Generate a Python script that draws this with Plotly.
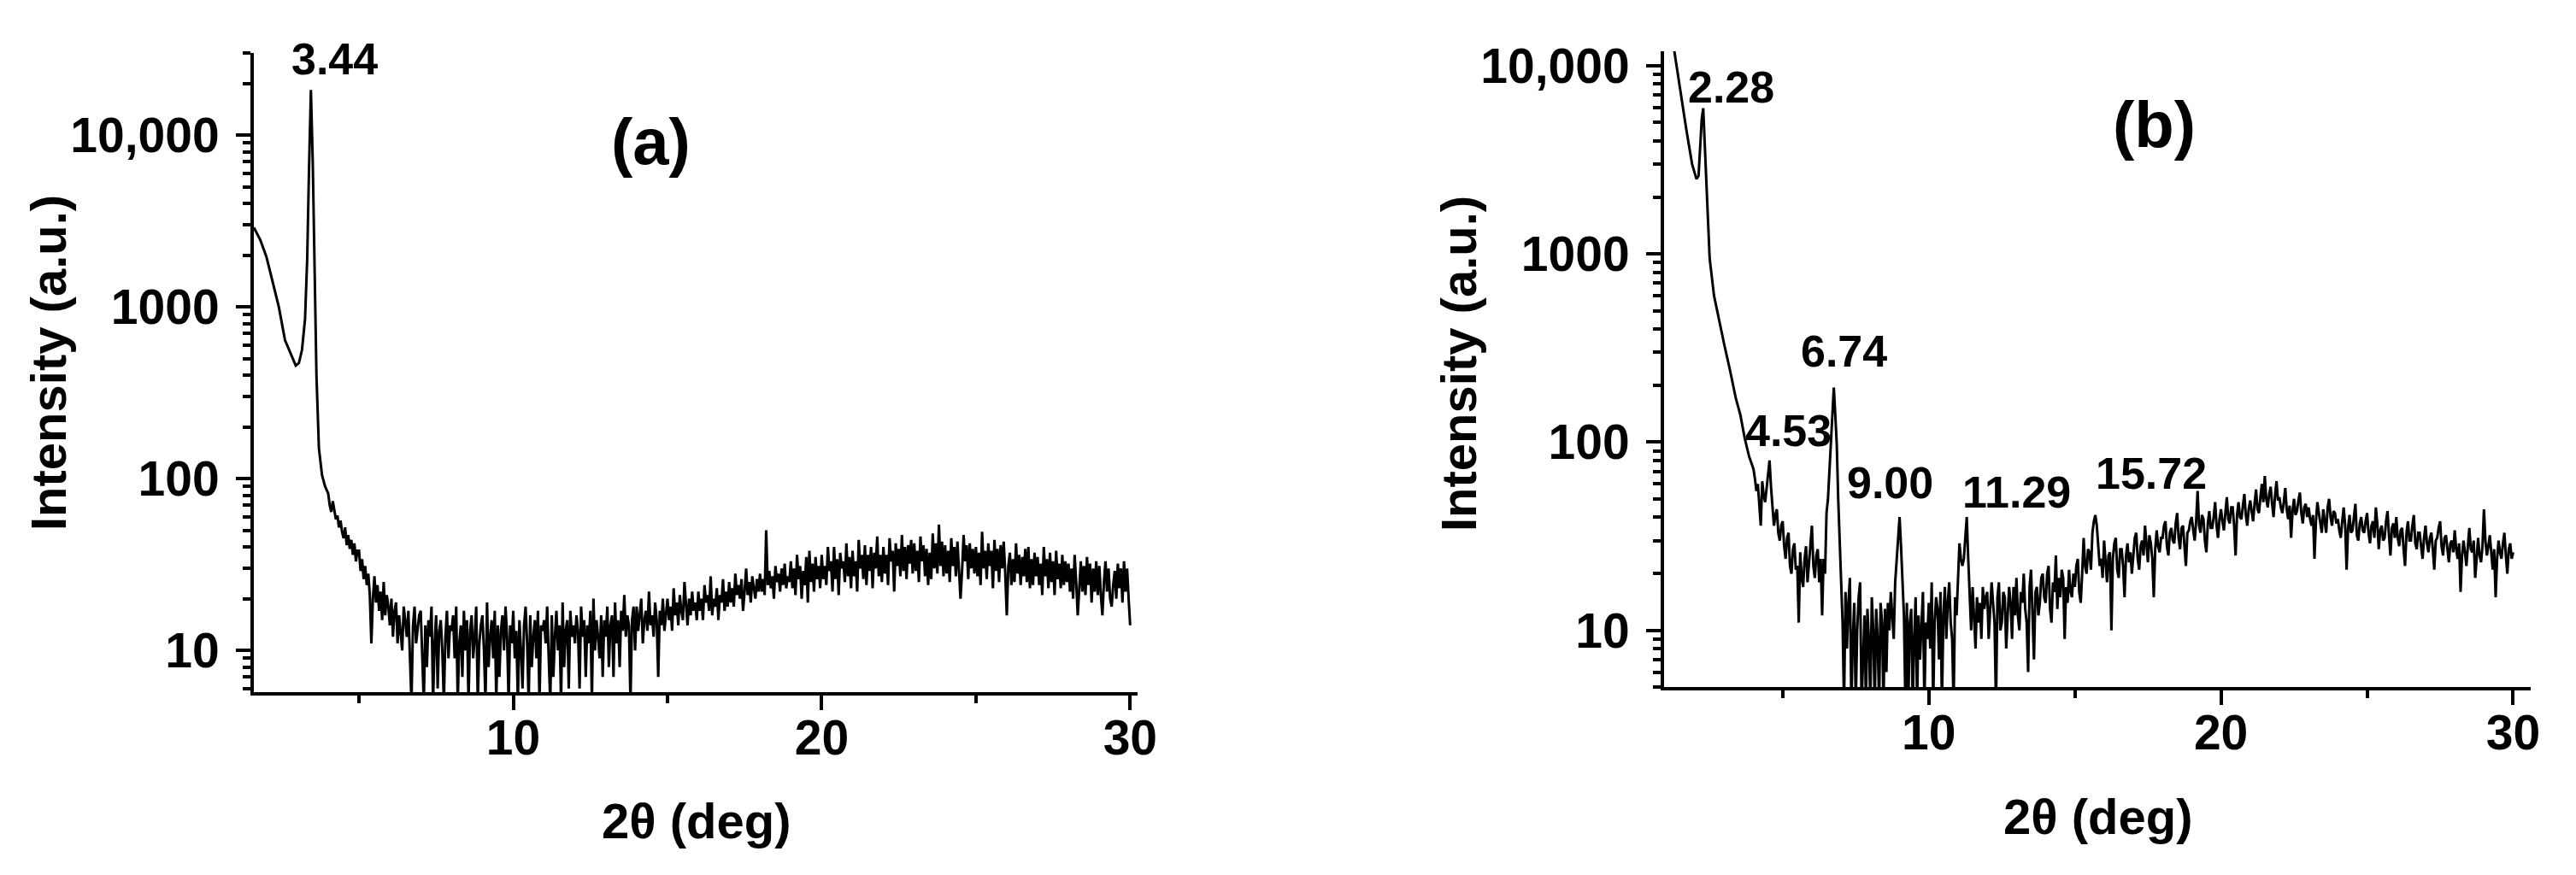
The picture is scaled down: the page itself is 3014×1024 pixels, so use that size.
import plotly.graph_objects as go

# ---- panel (a): low-angle part read point by point ----
tt_a_low = [1.59, 1.8, 2.0, 2.2, 2.4, 2.6, 2.8, 2.95, 3.05, 3.15, 3.25, 3.32, 3.38,
            3.44, 3.5, 3.56, 3.62, 3.7, 3.8, 3.9]
cps_a_low = [2900, 2450, 1950, 1400, 1000, 640, 520, 455, 470, 560, 850, 1900, 6500,
             18300, 7000, 1500, 400, 150, 105, 90]

# scan counts, one row per degree (4.00 ... 4.95, 5.00 ... 5.95, ...), step 0.05
scan_a = [
    [82, 70, 64, 74, 66, 58, 61, 52, 57, 49, 45, 52, 41, 47, 39, 44, 36, 42, 33, 38],
    [38, 29, 34, 26, 31, 24, 28, 21, 11, 20, 27, 19, 24, 17, 22, 15, 25, 16, 21, 18],
    [14, 20, 12, 17, 19, 11, 16, 13, 10, 18, 15, 12, 17, 9, 5, 14, 18, 11, 13, 16],
    [17, 10, 5, 14, 8, 15, 12, 18, 5, 11, 16, 6, 13, 15, 10, 5, 12, 17, 9, 14],
    [13, 16, 9, 18, 5, 11, 14, 7, 17, 10, 15, 5, 13, 16, 9, 12, 18, 5, 11, 14],
    [16, 10, 5, 19, 8, 12, 15, 9, 17, 5, 14, 7, 13, 16, 10, 18, 12, 5, 14, 11],
    [17, 9, 13, 5, 15, 10, 6, 14, 18, 11, 5, 16, 8, 12, 15, 9, 17, 5, 14, 13],
    [15, 11, 18, 9, 5, 16, 7, 12, 17, 10, 14, 5, 19, 8, 13, 15, 6, 17, 12, 14],
    [11, 16, 13, 6, 18, 12, 15, 7, 14, 11, 17, 5, 20, 10, 15, 12, 9, 16, 7, 15],
    [12, 18, 8, 14, 16, 7, 19, 11, 15, 8, 17, 13, 21, 12, 16, 14, 5, 15, 18, 10],
    [18, 13, 16, 20, 11, 15, 17, 13, 22, 14, 16, 12, 19, 15, 7, 17, 14, 20, 13, 16],
    [20, 15, 18, 13, 23, 16, 19, 14, 21, 17, 15, 25, 18, 14, 20, 16, 22, 17, 19, 15],
    [22, 17, 20, 15, 24, 19, 21, 17, 27, 16, 20, 18, 23, 15, 21, 19, 26, 17, 22, 18],
    [25, 19, 23, 18, 28, 21, 24, 20, 26, 17, 22, 30, 21, 25, 19, 27, 23, 20, 26, 22],
    [28, 22, 26, 21, 50, 24, 29, 23, 27, 20, 31, 25, 28, 22, 30, 24, 32, 23, 27, 25],
    [33, 23, 30, 21, 36, 26, 31, 20, 29, 24, 35, 19, 38, 25, 32, 22, 35, 26, 31, 23],
    [36, 26, 31, 24, 40, 29, 33, 22, 40, 26, 34, 21, 37, 30, 33, 25, 42, 27, 35, 23],
    [38, 27, 33, 22, 44, 30, 36, 26, 41, 24, 36, 29, 40, 23, 37, 30, 46, 27, 36, 25],
    [40, 28, 36, 24, 45, 33, 38, 22, 42, 31, 39, 27, 47, 29, 40, 26, 41, 32, 44, 28],
    [42, 29, 38, 25, 46, 33, 41, 27, 39, 24, 37, 26, 48, 30, 42, 28, 54, 31, 43, 27],
    [41, 28, 38, 25, 45, 31, 40, 27, 43, 30, 20, 29, 47, 33, 41, 26, 42, 30, 39, 28],
    [40, 27, 37, 24, 49, 30, 38, 26, 42, 31, 38, 23, 44, 29, 39, 25, 41, 30, 43, 28],
    [16, 31, 37, 24, 34, 25, 42, 28, 36, 24, 35, 27, 39, 25, 40, 23, 34, 24, 37, 27],
    [35, 24, 32, 21, 40, 27, 34, 23, 37, 25, 33, 21, 38, 26, 32, 23, 36, 24, 33, 25],
    [32, 22, 30, 20, 36, 25, 16, 23, 33, 22, 31, 21, 35, 24, 32, 19, 30, 22, 33, 21],
    [31, 21, 16, 25, 33, 22, 30, 20, 18, 24, 29, 20, 32, 23, 30, 19, 33, 22, 30, 20],
    [14],
]

# ---- panel (b) ----
tt_b_low = [0.94, 1.1, 1.29, 1.5, 1.7, 1.9, 2.05, 2.12, 2.18, 2.23, 2.28, 2.33, 2.4,
            2.5, 2.65, 2.8, 3.0, 3.2, 3.4, 3.55, 3.7, 3.85]
cps_b_low = [24000, 17000, 12000, 7200, 4600, 3000, 2500, 2600, 3800, 5200, 5950, 3900, 2150,
             950, 600, 460, 330, 240, 170, 140, 105, 84]

scan_b = [
    [72, 64, 55, 60, 48, 36, 62, 52, 48, 57, 66, 80, 58, 44, 36, 41, 44, 33, 30, 36],
    [38, 28, 24, 31, 33, 22, 20, 27, 29, 21, 22, 11, 26, 19, 17, 24, 28, 18, 23, 30],
    [36, 22, 19, 25, 27, 18, 24, 12, 24, 20, 42, 50, 70, 110, 150, 195, 140, 98, 50, 30],
    [22, 11, 4, 16, 8, 14, 19, 4, 9, 14, 4, 10, 15, 18, 4, 8, 12, 4, 13, 9],
    [4, 15, 10, 4, 13, 9, 4, 14, 11, 4, 13, 6, 14, 10, 16, 12, 9, 18, 24, 30],
    [40, 28, 17, 12, 4, 14, 4, 11, 13, 4, 9, 15, 4, 12, 7, 10, 16, 4, 11, 9],
    [14, 8, 18, 4, 11, 15, 13, 7, 16, 4, 12, 17, 9, 14, 18, 11, 9, 4, 15, 12],
    [20, 29, 24, 22, 24, 33, 40, 24, 16, 10, 17, 12, 8, 15, 11, 14, 9, 17, 13, 15],
    [16, 9, 13, 18, 14, 11, 4, 15, 18, 10, 11, 16, 15, 8, 12, 17, 14, 9, 17, 12],
    [19, 12, 10, 16, 14, 20, 13, 11, 6, 17, 21, 13, 7, 16, 17, 12, 14, 19, 20, 15],
    [14, 20, 22, 13, 11, 18, 16, 25, 13, 19, 15, 21, 19, 9, 17, 14, 21, 16, 15, 20],
    [17, 22, 24, 16, 14, 20, 31, 22, 20, 27, 26, 21, 33, 38, 41, 36, 28, 22, 24, 19],
    [30, 22, 18, 25, 26, 10, 24, 29, 31, 21, 19, 27, 27, 22, 15, 25, 29, 23, 26, 20],
    [25, 31, 33, 24, 21, 28, 30, 25, 36, 29, 23, 32, 29, 24, 15, 27, 34, 28, 26, 31],
    [31, 36, 38, 28, 25, 33, 35, 30, 29, 37, 42, 31, 27, 35, 36, 28, 22, 33, 34, 38],
    [40, 34, 30, 38, 55, 36, 33, 41, 39, 30, 26, 37, 43, 35, 35, 40, 48, 36, 31, 39],
    [44, 38, 34, 42, 51, 39, 37, 45, 45, 36, 25, 41, 48, 40, 39, 46, 53, 41, 36, 44],
    [49, 43, 38, 47, 56, 44, 42, 51, 60, 48, 66, 50, 45, 53, 58, 47, 40, 52, 62, 49],
    [51, 45, 42, 48, 57, 44, 39, 46, 31, 43, 50, 41, 43, 49, 54, 42, 37, 45, 47, 40],
    [45, 39, 36, 41, 24, 38, 48, 42, 38, 33, 44, 39, 33, 45, 50, 40, 36, 43, 42, 37],
    [39, 34, 31, 38, 45, 36, 21, 35, 41, 33, 34, 40, 47, 32, 30, 37, 40, 34, 33, 38],
    [42, 33, 29, 36, 38, 31, 45, 37, 27, 34, 36, 30, 31, 38, 43, 32, 25, 35, 37, 31],
    [40, 31, 28, 34, 35, 27, 22, 33, 38, 30, 30, 36, 41, 29, 27, 33, 33, 28, 24, 31],
    [36, 29, 26, 31, 33, 27, 21, 30, 31, 35, 38, 28, 25, 31, 32, 27, 23, 29, 30, 26],
    [34, 27, 24, 29, 16, 25, 30, 26, 22, 28, 35, 27, 26, 30, 19, 24, 31, 25, 23, 28],
    [44, 30, 25, 28, 32, 26, 21, 27, 15, 24, 30, 26, 24, 29, 33, 25, 20, 27, 29, 24],
    [26],
]
scan_start = 4
scan_step = 0.05

# peak labels: (text, 2theta of label centre, log10 height of label centre)
peaks_a = [("3.44", 4.20, 4.442)]
peaks_b = [("2.28", 3.25, 3.887), ("4.53", 5.21, 2.059), ("6.74", 7.09, 2.485),
           ("9.00", 8.67, 1.782), ("11.29", 13.0, 1.732), ("15.72", 17.6, 1.832)]

y_ticks = [10, 100, 1000, 10000]
y_ticktext = ["10", "100", "1000", "10,000"]
y_minor = [5, 6, 7, 8, 9, 20, 30, 40, 50, 60, 70, 80, 90, 200, 300, 400, 500, 600, 700, 800, 900,
           2000, 3000, 4000, 5000, 6000, 7000, 8000, 9000, 20000, 30000]
x_ticks = [10, 20, 30]
x_minor = [5, 15, 25]


def unroll(rows):
    tt, cps = [], []
    for k, row in enumerate(rows):
        assert len(row) in (1, 20), f"row {k} has {len(row)} values"
        for j, c in enumerate(row):
            tt.append(round(scan_start + k + j * scan_step, 2))
            cps.append(c)
    return tt, cps


tt_a_scan, cps_a_scan = unroll(scan_a)
tt_b_scan, cps_b_scan = unroll(scan_b)
tt_a = tt_a_low + tt_a_scan
cps_a = cps_a_low + cps_a_scan
tt_b = tt_b_low + tt_b_scan
cps_b = cps_b_low + cps_b_scan

FONT = "Liberation Sans, Arial, sans-serif"

fig = go.Figure()
fig.add_trace(go.Scatter(x=tt_a, y=cps_a, mode="lines", line=dict(color="black", width=3),
                         xaxis="x", yaxis="y", showlegend=False))
fig.add_trace(go.Scatter(x=tt_b, y=cps_b, mode="lines", line=dict(color="black", width=3),
                         xaxis="x2", yaxis="y2", showlegend=False))

xcommon = dict(
    tickvals=x_ticks, ticks="outside", ticklen=17, tickwidth=4, tickcolor="black",
    minor=dict(tickvals=x_minor, ticks="outside", ticklen=9, tickwidth=4, tickcolor="black"),
    showline=True, linewidth=4, linecolor="black", showgrid=False, zeroline=False,
    tickfont=dict(family=FONT, size=57, color="black", weight="bold"),
    ticklabelstandoff=-16, automargin=False,
)
ycommon = dict(
    type="log", tickvals=y_ticks, ticktext=y_ticktext, ticks="outside", ticklen=17,
    tickwidth=4, tickcolor="black",
    minor=dict(tickvals=y_minor, ticks="outside", ticklen=9, tickwidth=4, tickcolor="black"),
    showline=True, linewidth=4, linecolor="black", showgrid=False, zeroline=False,
    tickfont=dict(family=FONT, size=57, color="black", weight="bold"),
    ticklabelstandoff=8, automargin=False,
)

fig.update_layout(
    width=3014, height=1024,
    margin=dict(l=0, r=0, t=0, b=0),
    plot_bgcolor="white", paper_bgcolor="white",
    xaxis=dict(xcommon, domain=[297 / 3014, 1331 / 3014], range=[1.59, 30.24], anchor="y"),
    yaxis=dict(ycommon, domain=[1 - 810 / 1024, 1 - 62 / 1024], range=[0.757, 4.478], anchor="x"),
    xaxis2=dict(xcommon, domain=[1947 / 3014, 2961 / 3014], range=[0.94, 30.6], anchor="y2"),
    yaxis2=dict(ycommon, domain=[1 - 804 / 1024, 1 - 60 / 1024], range=[0.699, 4.077], anchor="x2"),
)

label_font = dict(family=FONT, size=52, color="black", weight="bold")
for text, x, y in peaks_a:
    fig.add_annotation(x=x, y=y, xref="x", yref="y", text=text, showarrow=False, font=label_font)
for text, x, y in peaks_b:
    fig.add_annotation(x=x, y=y, xref="x2", yref="y2", text=text, showarrow=False, font=label_font)

panel_font = dict(family=FONT, size=76, color="black", weight="bold")
fig.add_annotation(x=14.45, y=3.963, xref="x", yref="y", text="(a)", showarrow=False, font=panel_font)
fig.add_annotation(x=17.72, y=3.687, xref="x2", yref="y2", text="(b)", showarrow=False, font=panel_font)

title_font = dict(family=FONT, size=58, color="black", weight="bold")
for xc, yc in [((297 + 1331) / 2 / 3014, 1 - 960 / 1024), ((1947 + 2961) / 2 / 3014, 1 - 955 / 1024)]:
    fig.add_annotation(x=xc, y=yc, xref="paper", yref="paper", text="2θ (deg)",
                       xanchor="center", yanchor="middle", showarrow=False, font=title_font)
for xc in [56 / 3014, 1706 / 3014]:
    fig.add_annotation(x=xc, y=1 - 425 / 1024, xref="paper", yref="paper", text="Intensity (a.u.)",
                       textangle=-90, xanchor="center", yanchor="middle",
                       showarrow=False, font=title_font)

# the page body has a default 8px margin; drop it so the figure sits at the window corner
fig.write_html("out.html", config={"displayModeBar": False},
               post_script="document.body.style.margin='0px';")
